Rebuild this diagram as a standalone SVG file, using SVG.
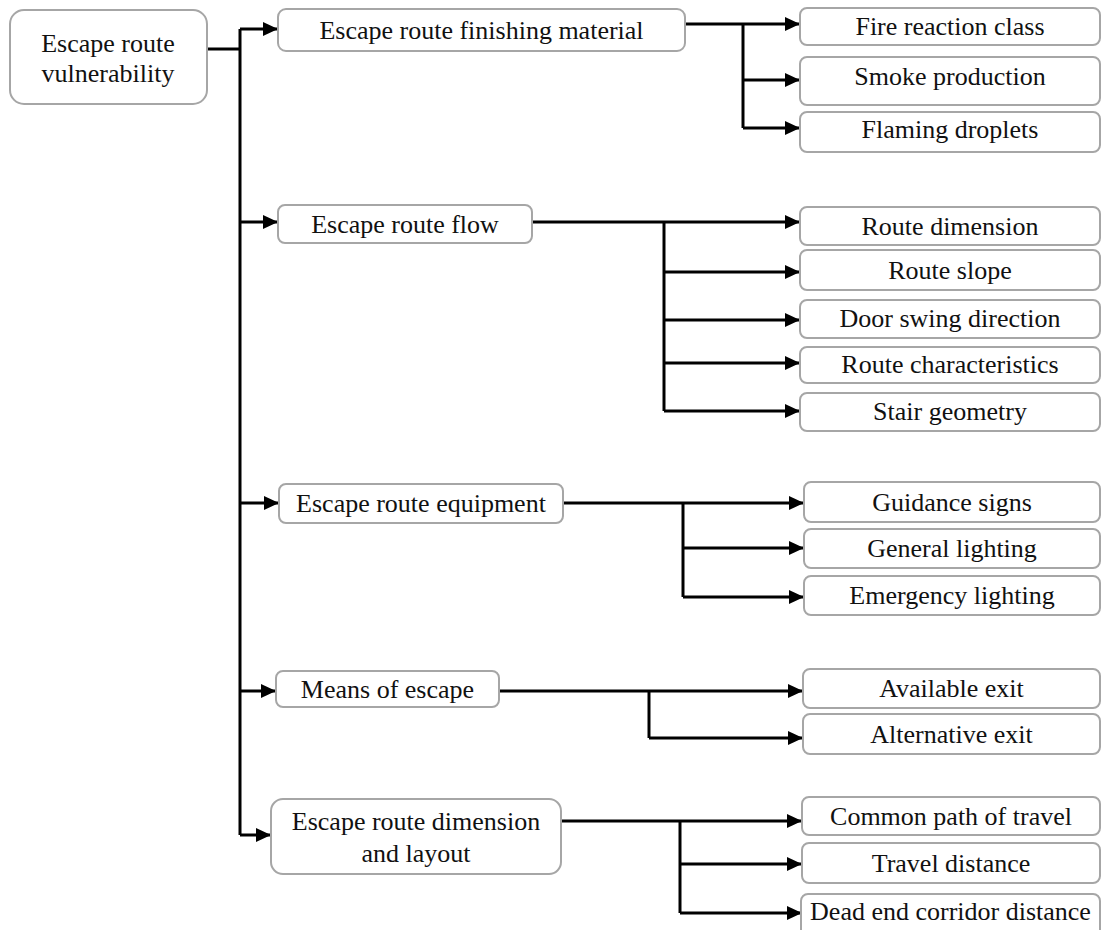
<svg xmlns="http://www.w3.org/2000/svg" width="1102" height="930" viewBox="0 0 1102 930">
<style>
.box{fill:#fff;stroke:#a6a6a6;stroke-width:2}
.t{font-family:"Liberation Serif","Times New Roman",serif;font-size:26px;fill:#111;text-anchor:middle}
.c{fill:none;stroke:#000;stroke-width:3}
</style>
<defs>
<marker id="ah" markerUnits="userSpaceOnUse" viewBox="0 0 15 14" refX="15" refY="7" markerWidth="15" markerHeight="14" orient="auto">
<path d="M0,0 L15,7 L0,14 Z" fill="#000"/>
</marker>
</defs>
<rect width="1102" height="930" fill="#fff"/>
<g id="connectors">
<path class="c" d="M207,49 H240"/>
<path class="c" d="M240,29 V835"/>
<path class="c" d="M240,29 H278" marker-end="url(#ah)"/>
<path class="c" d="M240,222 H278" marker-end="url(#ah)"/>
<path class="c" d="M240,503 H279" marker-end="url(#ah)"/>
<path class="c" d="M240,691 H276" marker-end="url(#ah)"/>
<path class="c" d="M240,835 H271" marker-end="url(#ah)"/>
<path class="c" d="M685,24 H800" marker-end="url(#ah)"/>
<path class="c" d="M743,24 V128"/>
<path class="c" d="M743,80 H800" marker-end="url(#ah)"/>
<path class="c" d="M743,128 H800" marker-end="url(#ah)"/>
<path class="c" d="M532,222 H800" marker-end="url(#ah)"/>
<path class="c" d="M664,222 V411"/>
<path class="c" d="M664,272 H800" marker-end="url(#ah)"/>
<path class="c" d="M664,320 H800" marker-end="url(#ah)"/>
<path class="c" d="M664,363 H800" marker-end="url(#ah)"/>
<path class="c" d="M664,411 H800" marker-end="url(#ah)"/>
<path class="c" d="M563,503 H804" marker-end="url(#ah)"/>
<path class="c" d="M683,503 V597"/>
<path class="c" d="M683,548 H804" marker-end="url(#ah)"/>
<path class="c" d="M683,597 H804" marker-end="url(#ah)"/>
<path class="c" d="M499,691 H803" marker-end="url(#ah)"/>
<path class="c" d="M649,691 V738"/>
<path class="c" d="M649,738 H803" marker-end="url(#ah)"/>
<path class="c" d="M561,821 H802" marker-end="url(#ah)"/>
<path class="c" d="M680,821 V913"/>
<path class="c" d="M680,864 H802" marker-end="url(#ah)"/>
<path class="c" d="M680,913 H802" marker-end="url(#ah)"/>
</g>
<g id="root"><rect class="box" x="10" y="10" width="197" height="94" rx="14"/><text class="t" x="108" y="52">Escape route</text><text class="t" x="108" y="82">vulnerability</text></g>
<g id="finishing"><rect class="box" x="278" y="9" width="407" height="42" rx="8"/><text class="t" x="481.5" y="39">Escape route finishing material</text></g>
<g id="flow"><rect class="box" x="278" y="205" width="254" height="38" rx="7"/><text class="t" x="405" y="233">Escape route flow</text></g>
<g id="equipment"><rect class="box" x="279" y="484" width="284" height="39" rx="7"/><text class="t" x="421" y="512">Escape route equipment</text></g>
<g id="means"><rect class="box" x="276" y="671" width="223" height="36" rx="7"/><text class="t" x="387.5" y="698">Means of escape</text></g>
<g id="dimension"><rect class="box" x="271" y="799" width="290" height="75" rx="12"/><text class="t" x="416" y="830">Escape route dimension</text><text class="t" x="416" y="862">and layout</text></g>
<g id="fire"><rect class="box" x="800" y="8" width="300" height="37" rx="7"/><text class="t" x="950" y="35">Fire reaction class</text></g>
<g id="smoke"><rect class="box" x="800" y="57" width="300" height="48" rx="7"/><text class="t" x="950" y="85">Smoke production</text></g>
<g id="droplets"><rect class="box" x="800" y="112" width="300" height="40" rx="7"/><text class="t" x="950" y="138">Flaming droplets</text></g>
<g id="routedim"><rect class="box" x="800" y="207" width="300" height="38" rx="7"/><text class="t" x="950" y="235">Route dimension</text></g>
<g id="slope"><rect class="box" x="800" y="250" width="300" height="40" rx="7"/><text class="t" x="950" y="279">Route slope</text></g>
<g id="door"><rect class="box" x="800" y="300" width="300" height="38" rx="7"/><text class="t" x="950" y="327">Door swing direction</text></g>
<g id="charac"><rect class="box" x="800" y="347" width="300" height="36" rx="7"/><text class="t" x="950" y="373">Route characteristics</text></g>
<g id="stair"><rect class="box" x="800" y="393" width="300" height="38" rx="7"/><text class="t" x="950" y="420">Stair geometry</text></g>
<g id="guidance"><rect class="box" x="804" y="482" width="296" height="40" rx="7"/><text class="t" x="952" y="511">Guidance signs</text></g>
<g id="general"><rect class="box" x="804" y="529" width="296" height="39" rx="7"/><text class="t" x="952" y="557">General lighting</text></g>
<g id="emergency"><rect class="box" x="804" y="576" width="296" height="39" rx="7"/><text class="t" x="952" y="604">Emergency lighting</text></g>
<g id="available"><rect class="box" x="803" y="669" width="297" height="39" rx="7"/><text class="t" x="951.5" y="697">Available exit</text></g>
<g id="alternative"><rect class="box" x="803" y="714" width="297" height="40" rx="7"/><text class="t" x="951.5" y="743">Alternative exit</text></g>
<g id="common"><rect class="box" x="802" y="797" width="298" height="38" rx="7"/><text class="t" x="951" y="825">Common path of travel</text></g>
<g id="travel"><rect class="box" x="802" y="843" width="298" height="40" rx="7"/><text class="t" x="951" y="872">Travel distance</text></g>
<g id="deadend"><rect class="box" x="801" y="894" width="299" height="44" rx="7"/><text class="t" x="950.5" y="920">Dead end corridor distance</text></g>
</svg>
